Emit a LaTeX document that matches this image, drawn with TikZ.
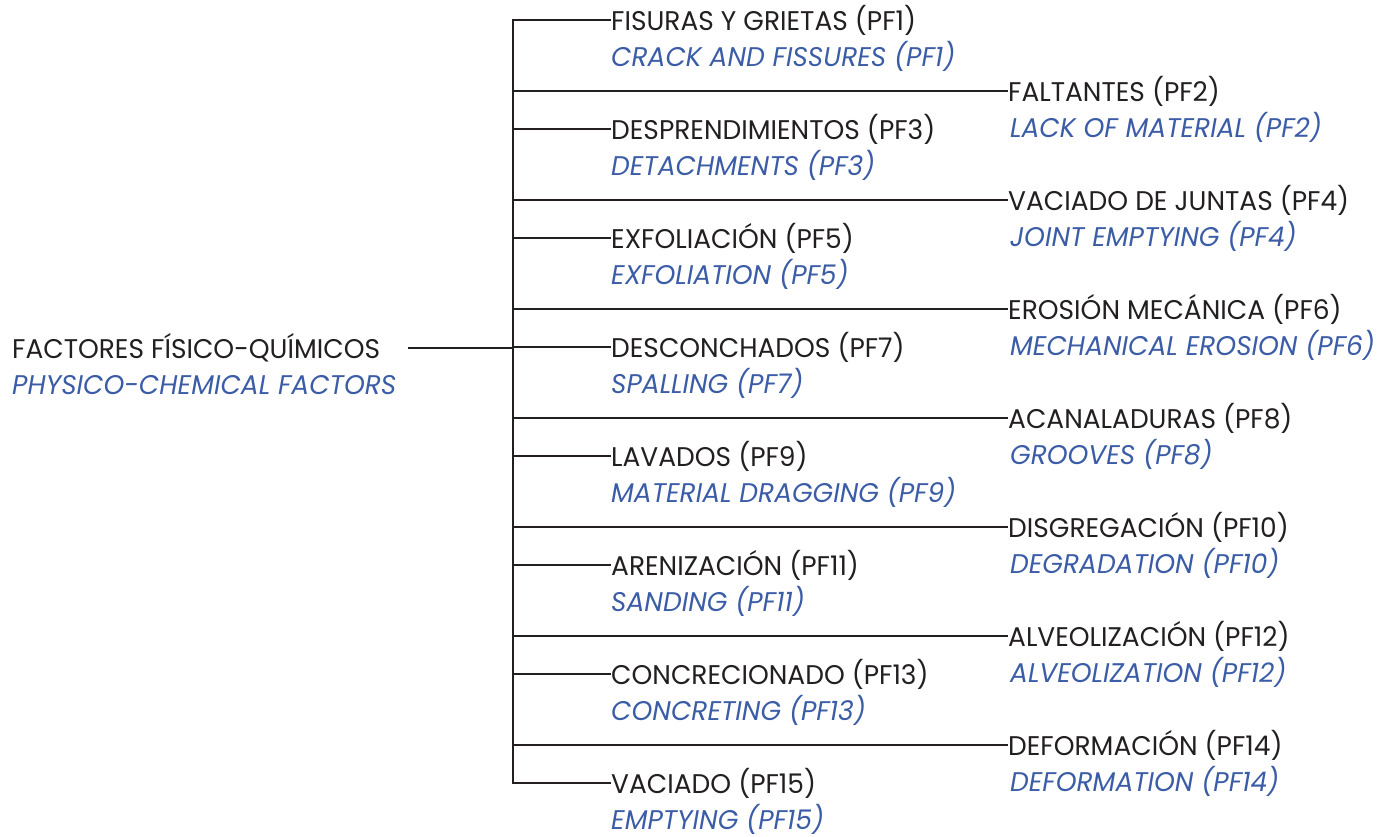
\documentclass[tikz,border=0pt]{standalone}
\usepackage{fontspec}
\setmainfont{Poppins}[FakeStretch=0.98]
\definecolor{txtblack}{HTML}{231F20}
\definecolor{txtblue}{HTML}{3B5CA6}
\begin{document}
\begin{tikzpicture}[x=1pt,y=-1pt,
  es/.style={anchor=base west,inner sep=0pt,text=txtblack,font=\fontsize{27}{32}\selectfont},
  en/.style={anchor=base west,inner sep=0pt,text=txtblue,font=\fontsize{27}{32}\selectfont\itshape},
  conn/.style={line width=2.4pt,draw=txtblack}]
\useasboundingbox (0,0) rectangle (1388,836);
% main
\node[es] (mes) at (12,358) {FACTORES FÍSICO-QUÍMICOS};
\node[en] (men) at (12,394) {PHYSICO-CHEMICAL FACTORS};
\coordinate (ms) at (408,348);
\coordinate (tj) at (513,348);
\coordinate (ttop) at (513,20);
\coordinate (tbot) at (513,783);
\draw[conn] (ms) -- (tj);
\draw[conn,line cap=rect] (ttop) -- (tbot);
% left
\foreach \i/\y/\es/\en in {
 1/20/FISURAS Y GRIETAS (PF1)/CRACK AND FISSURES (PF1),
 3/129/DESPRENDIMIENTOS (PF3)/DETACHMENTS (PF3),
 5/238/EXFOLIACIÓN (PF5)/EXFOLIATION (PF5),
 7/347/DESCONCHADOS (PF7)/SPALLING (PF7),
 9/456/LAVADOS (PF9)/MATERIAL DRAGGING (PF9),
 11/565/ARENIZACIÓN (PF11)/SANDING (PF11),
 13/674/CONCRECIONADO (PF13)/CONCRETING (PF13),
 15/783/VACIADO (PF15)/EMPTYING (PF15)}{
 \node[es] (s\i) at (611,\y+10) {\es};
 \node[en] (n\i) at (611,\y+46) {\en};
 \coordinate (b\i) at (513,\y);
 \draw[conn] (b\i) -- (s\i.base west |- b\i);
}
% right
\foreach \i/\y/\es/\en in {
 2/91/FALTANTES (PF2)/LACK OF MATERIAL (PF2),
 4/200/VACIADO DE JUNTAS (PF4)/JOINT EMPTYING (PF4),
 6/309/EROSIÓN MECÁNICA (PF6)/MECHANICAL EROSION (PF6),
 8/418/ACANALADURAS (PF8)/GROOVES (PF8),
 10/527/DISGREGACIÓN (PF10)/DEGRADATION (PF10),
 12/636/ALVEOLIZACIÓN (PF12)/ALVEOLIZATION (PF12),
 14/745/DEFORMACIÓN (PF14)/DEFORMATION (PF14)}{
 \node[es] (s\i) at (1008,\y+10) {\es};
 \node[en] (n\i) at (1010,\y+46) {\en};
 \coordinate (b\i) at (513,\y);
 \draw[conn] (b\i) -- (s\i.base west |- b\i);
}
\end{tikzpicture}
\end{document}
